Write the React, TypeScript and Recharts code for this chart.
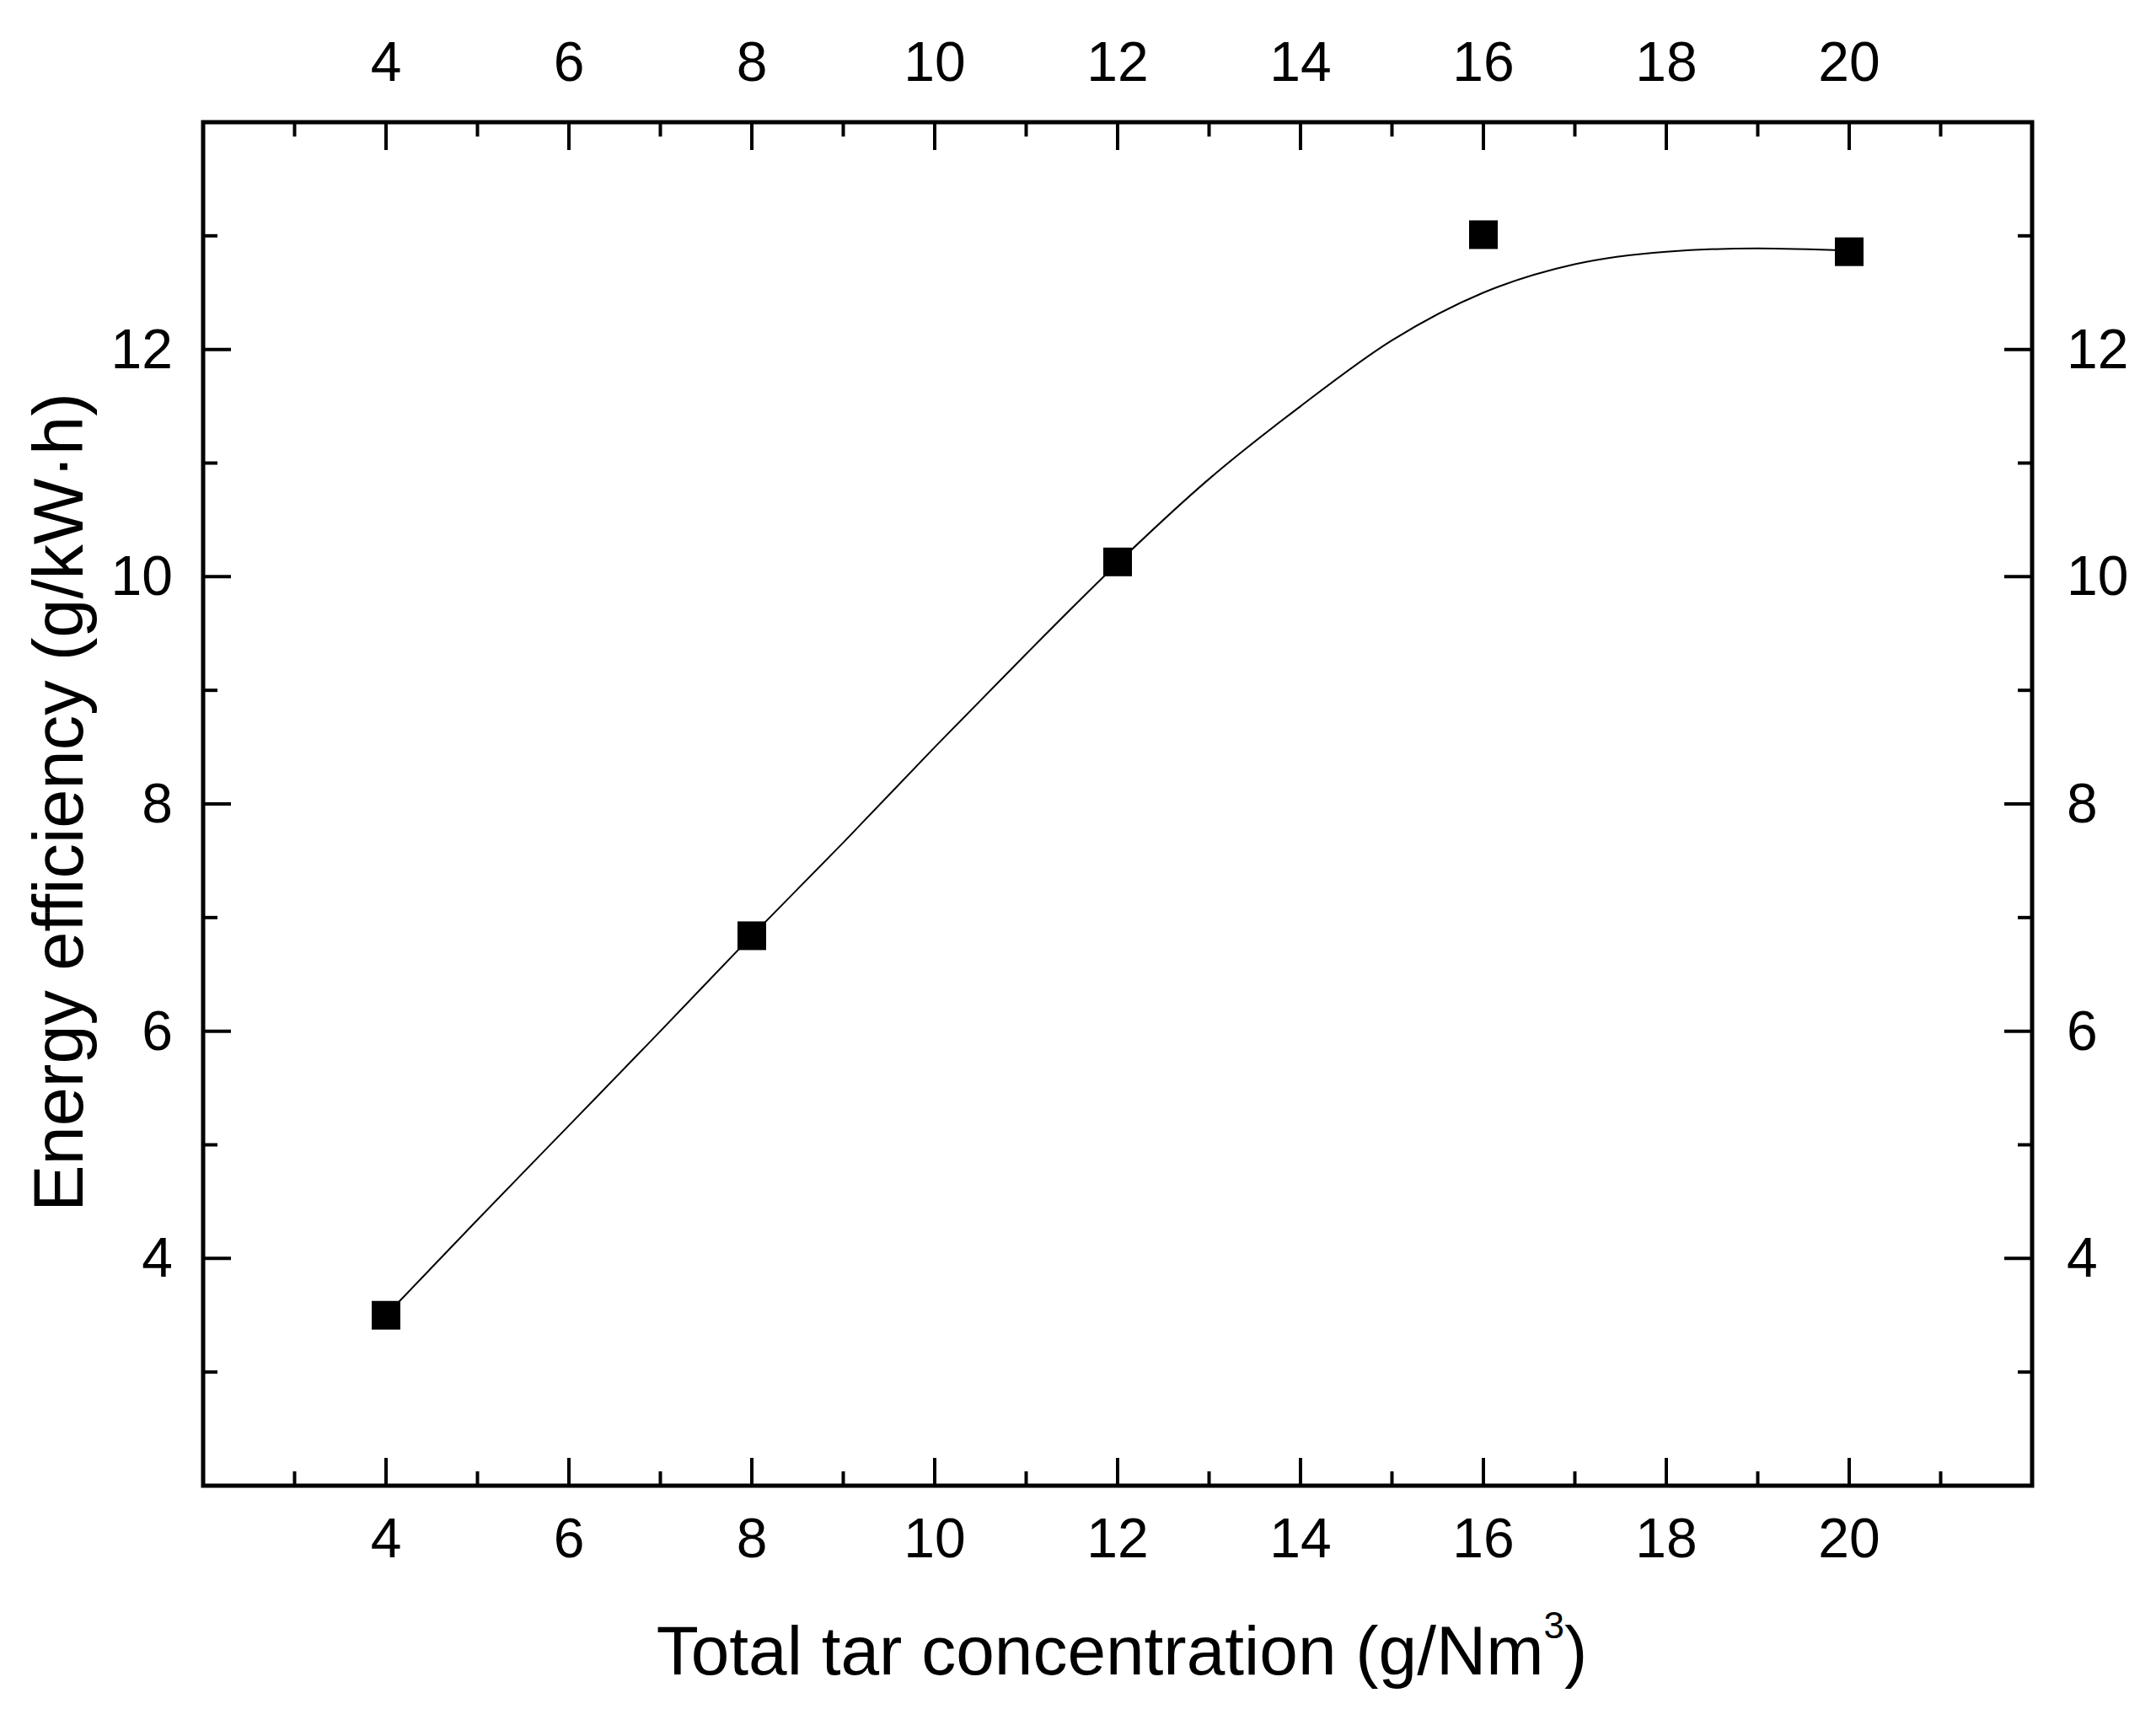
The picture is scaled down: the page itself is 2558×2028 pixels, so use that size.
import {
  ComposedChart,
  Line,
  Scatter,
  XAxis,
  YAxis,
  ReferenceArea,
} from "recharts";

const FONT = "'Liberation Sans', Arial, sans-serif";

// measured points
const concentrations = [4, 8, 12, 16, 20];
const efficiencies = [3.5, 6.84, 10.13, 13.01, 12.86];

// fitted curve
const curveX = [4, 5, 6, 7, 8, 9, 10, 11, 12, 13, 14, 15, 16, 17, 18, 19, 20];
const curveY = [
  3.5, 4.34, 5.17, 6.0, 6.84, 7.66, 8.5, 9.32, 10.12, 10.86, 11.5, 12.08,
  12.5, 12.75, 12.86, 12.89, 12.87,
];

const xTicks = [3, 4, 5, 6, 7, 8, 9, 10, 11, 12, 13, 14, 15, 16, 17, 18, 19, 20, 21];
const xLabels = [4, 6, 8, 10, 12, 14, 16, 18, 20];
const yTicks = [3, 4, 5, 6, 7, 8, 9, 10, 11, 12, 13];
const yLabels = [4, 6, 8, 10, 12];

const points = concentrations.map((x, i) => ({ x, y: efficiencies[i] }));
const curve = curveX.map((x, i) => ({ x, y: curveY[i] }));

const MAJOR = 33;
const MINOR = 17;
const TICK_FONT = 66;

const tickLen = (v: number) => (v % 2 === 0 ? MAJOR : MINOR);

function BottomTick({ x, y, payload }: any) {
  const v = payload.value;
  return (
    <g>
      <line x1={x} y1={y} x2={x} y2={y - tickLen(v)} stroke="#000" strokeWidth={4} />
      {xLabels.includes(v) && (
        <text x={x} y={y + 85} textAnchor="middle" fontSize={TICK_FONT} fontFamily={FONT} fill="#000">
          {v}
        </text>
      )}
    </g>
  );
}

function TopTick({ x, y, payload }: any) {
  const v = payload.value;
  return (
    <g>
      <line x1={x} y1={y} x2={x} y2={y + tickLen(v)} stroke="#000" strokeWidth={4} />
      {xLabels.includes(v) && (
        <text x={x} y={y - 49} textAnchor="middle" fontSize={TICK_FONT} fontFamily={FONT} fill="#000">
          {v}
        </text>
      )}
    </g>
  );
}

function LeftTick({ x, y, payload }: any) {
  const v = payload.value;
  return (
    <g>
      <line x1={x} y1={y} x2={x + tickLen(v)} y2={y} stroke="#000" strokeWidth={4} />
      {yLabels.includes(v) && (
        <text x={x - 36} y={y + 22} textAnchor="end" fontSize={TICK_FONT} fontFamily={FONT} fill="#000">
          {v}
        </text>
      )}
    </g>
  );
}

function RightTick({ x, y, payload }: any) {
  const v = payload.value;
  return (
    <g>
      <line x1={x} y1={y} x2={x - tickLen(v)} y2={y} stroke="#000" strokeWidth={4} />
      {yLabels.includes(v) && (
        <text x={x + 41} y={y + 22} textAnchor="start" fontSize={TICK_FONT} fontFamily={FONT} fill="#000">
          {v}
        </text>
      )}
    </g>
  );
}

function SquareDot({ cx, cy }: any) {
  return <rect x={cx - 17} y={cy - 17} width={34} height={34} fill="#000" />;
}

function XTitle() {
  return (
    <text x={1323} y={1979} textAnchor="middle" fontSize={82} fontFamily={FONT} fill="#000">
      Total tar concentration (g/Nm
      <tspan fontSize={44} dy={-43}>
        3
      </tspan>
      <tspan dy={43}>)</tspan>
    </text>
  );
}

function YTitle() {
  return (
    <text
      x={90}
      y={944}
      transform="rotate(-90 90 944)"
      textAnchor="middle"
      fontSize={83}
      fontFamily={FONT}
      fill="#000"
    >
      Energy efficiency (g/kW·h)
    </text>
  );
}

export default function App() {
  return (
    <div style={{ width: 2540, height: 2010, background: "#fff" }}>
      <ComposedChart
        width={2540}
        height={2010}
        margin={{ top: 37, right: 37, bottom: 155, left: 133 }}
      >
        <XAxis
          xAxisId="bottom"
          dataKey="x"
          type="number"
          domain={[2, 22]}
          allowDataOverflow
          ticks={xTicks}
          interval={0}
          orientation="bottom"
          height={100}
          axisLine={false}
          tickLine={false}
          tickSize={0}
          tickMargin={0}
          tick={<BottomTick />}
          label={{ content: () => <XTitle /> }}
        />
        <XAxis
          xAxisId="top"
          dataKey="x"
          type="number"
          domain={[2, 22]}
          allowDataOverflow
          ticks={xTicks}
          interval={0}
          orientation="top"
          height={100}
          axisLine={false}
          tickLine={false}
          tickSize={0}
          tickMargin={0}
          tick={<TopTick />}
        />
        <YAxis
          yAxisId="left"
          type="number"
          domain={[2, 14]}
          allowDataOverflow
          ticks={yTicks}
          interval={0}
          orientation="left"
          width={100}
          axisLine={false}
          tickLine={false}
          tickSize={0}
          tickMargin={0}
          tick={<LeftTick />}
          label={{ content: () => <YTitle /> }}
        />
        <YAxis
          yAxisId="right"
          type="number"
          domain={[2, 14]}
          allowDataOverflow
          ticks={yTicks}
          interval={0}
          orientation="right"
          width={100}
          axisLine={false}
          tickLine={false}
          tickSize={0}
          tickMargin={0}
          tick={<RightTick />}
        />
        <ReferenceArea
          xAxisId="bottom"
          yAxisId="left"
          x1={2}
          x2={22}
          y1={2}
          y2={14}
          fill="none"
          fillOpacity={0}
          stroke="#000"
          strokeWidth={5}
          ifOverflow="visible"
        />
        {/* invisible copy so the top and right axes have a series */}
        <Line
          xAxisId="top"
          yAxisId="right"
          data={curve}
          dataKey="y"
          stroke="none"
          strokeOpacity={0}
          dot={false}
          activeDot={false}
          isAnimationActive={false}
        />
        <Line
          xAxisId="bottom"
          yAxisId="left"
          data={curve}
          dataKey="y"
          type="monotone"
          stroke="#000"
          strokeWidth={2}
          dot={false}
          activeDot={false}
          isAnimationActive={false}
        />
        <Scatter
          xAxisId="bottom"
          yAxisId="left"
          data={points}
          dataKey="y"
          shape={<SquareDot />}
          isAnimationActive={false}
        />
      </ComposedChart>
    </div>
  );
}
